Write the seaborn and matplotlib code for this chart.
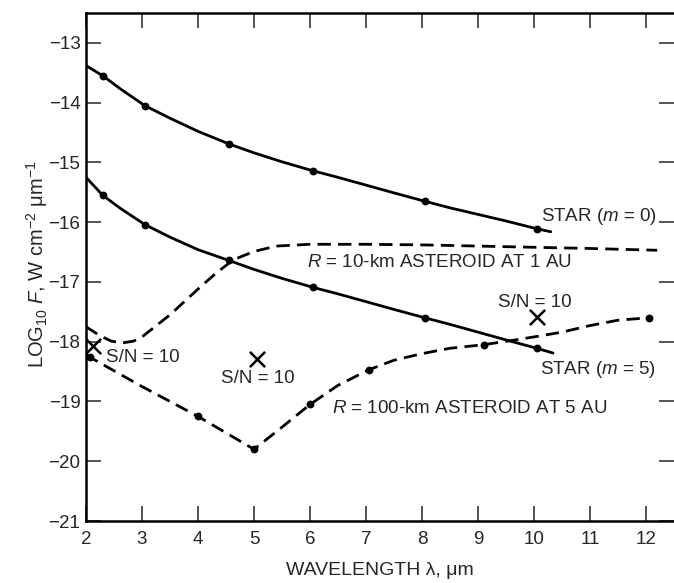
import matplotlib
matplotlib.use('Agg')
import pandas as pd
import seaborn as sns
import matplotlib.pyplot as plt

# Star m = 0 (smooth curve + measured points)
star0_x = [2.0, 2.3, 2.6, 3.05, 3.5, 4.0, 4.55, 5.0, 5.5, 6.05, 6.5, 7.0, 7.5, 8.05, 8.5, 9.0, 9.5, 10.05, 10.3]
star0_y = [-13.38, -13.55, -13.76, -14.05, -14.26, -14.48, -14.69, -14.84, -14.99, -15.14, -15.25, -15.38, -15.51, -15.65, -15.76, -15.87, -15.98, -16.11, -16.16]
star0_pts_x = [2.3, 3.05, 4.55, 6.05, 8.05, 10.05]
star0_pts_y = [-13.55, -14.05, -14.69, -15.14, -15.65, -16.11]

# Star m = 5
star5_x = [2.0, 2.3, 2.6, 3.05, 3.5, 4.0, 4.55, 5.0, 5.5, 6.05, 6.5, 7.0, 7.5, 8.05, 8.5, 9.0, 9.5, 10.05, 10.34]
star5_y = [-15.25, -15.55, -15.76, -16.04, -16.25, -16.46, -16.64, -16.79, -16.94, -17.09, -17.2, -17.33, -17.46, -17.6, -17.71, -17.84, -17.97, -18.11, -18.19]
star5_pts_x = [2.3, 3.05, 4.55, 6.05, 8.05, 10.05]
star5_pts_y = [-15.55, -16.04, -16.64, -17.09, -17.6, -18.11]

# R = 10-km asteroid at 1 AU
ast10_x = [2.0, 2.25, 2.45, 2.65, 2.85, 3.0, 3.5, 4.0, 4.3, 4.63, 5.0, 5.4, 6.0, 7.0, 8.0, 9.0, 10.0, 11.0, 12.2]
ast10_y = [-17.75, -17.9, -17.99, -18.02, -17.99, -17.92, -17.55, -17.12, -16.87, -16.63, -16.49, -16.4, -16.37, -16.37, -16.38, -16.4, -16.42, -16.44, -16.47]

# R = 100-km asteroid at 5 AU
ast100_x = [2.0, 2.07, 3.0, 4.0, 5.0, 5.5, 6.0, 6.5, 7.05, 7.5, 8.0, 8.5, 9.1, 9.6, 10.0, 10.5, 11.0, 11.5, 12.05]
ast100_y = [-18.22, -18.26, -18.75, -19.25, -19.8, -19.43, -19.05, -18.73, -18.47, -18.31, -18.2, -18.11, -18.05, -17.98, -17.92, -17.84, -17.73, -17.64, -17.6]
ast100_pts_x = [2.07, 4.0, 5.0, 6.0, 7.05, 9.1, 12.05]
ast100_pts_y = [-18.26, -19.25, -19.8, -19.05, -18.47, -18.05, -17.6]

# S/N = 10 crosses
sn_x = [2.13, 5.05, 10.05]
sn_y = [-18.08, -18.29, -17.59]

x_ticks = list(range(2, 13))
y_ticks = list(range(-21, -12))

sns.set_style('ticks')
plt.rcParams['font.family'] = ['Liberation Sans', 'DejaVu Sans']
plt.rcParams['mathtext.fontset'] = 'custom'
plt.rcParams['mathtext.rm'] = 'Liberation Sans'
plt.rcParams['mathtext.it'] = 'Liberation Sans:italic'
plt.rcParams['axes.unicode_minus'] = True

fig = plt.figure(figsize=(6.74, 5.83), dpi=100)
ax = fig.add_axes([86 / 674, 1 - 521 / 583, (674 - 86) / 674, (521 - 13) / 583])

lw = 2.0
dash = (0, (4.8, 2.6))

for xs, ys, ls in [(star0_x, star0_y, '-'), (star5_x, star5_y, '-'),
                   (ast10_x, ast10_y, dash), (ast100_x, ast100_y, dash)]:
    df = pd.DataFrame({'x': xs, 'y': ys})
    sns.lineplot(data=df, x='x', y='y', sort=False, estimator=None, color='black',
                 linewidth=lw, linestyle=ls, ax=ax)

for xs, ys in [(star0_pts_x, star0_pts_y), (star5_pts_x, star5_pts_y), (ast100_pts_x, ast100_pts_y)]:
    sns.scatterplot(x=xs, y=ys, color='black', s=32, edgecolor='black', linewidth=0, zorder=3, ax=ax)

sns.scatterplot(x=sn_x, y=sn_y, marker='x', color='black', s=120, linewidth=1.8, zorder=3, ax=ax)

fs = 13.5
ax.text(10.125, -15.91, 'STAR ($m$ = 0)', fontsize=fs, ha='left', va='center')
ax.text(5.95, -16.67, '$R$ = 10-km ASTEROID AT 1 AU', fontsize=fs, ha='left', va='center')
ax.text(10.11, -18.47, 'STAR ($m$ = 5)', fontsize=fs, ha='left', va='center')
ax.text(6.39, -19.11, '$R$ = 100-km ASTEROID AT 5 AU', fontsize=fs, ha='left', va='center')
ax.text(2.36, -18.26, 'S/N = 10', fontsize=fs, ha='left', va='center')
ax.text(5.07, -18.62, 'S/N = 10', fontsize=fs, ha='center', va='center')
ax.text(9.36, -17.35, 'S/N = 10', fontsize=fs, ha='left', va='center')

ax.set_xlim(2, 12.5)
ax.set_ylim(-21, -12.5)
ax.set_xticks(x_ticks)
ax.set_yticks(y_ticks)
ax.set_xticklabels([str(t) for t in x_ticks])
ax.set_yticklabels(['\u2212' + str(abs(t)) for t in y_ticks])
ax.tick_params(direction='in', length=11, width=1.1, labelsize=fs,
               top=True, right=True, bottom=True, left=True, pad=7)
ax.tick_params(axis='y', pad=4)

for side in ['left', 'bottom', 'top']:
    ax.spines[side].set_linewidth(1.8)
    ax.spines[side].set_color('black')
ax.spines['right'].set_visible(False)

ax.set_xlabel('WAVELENGTH λ, μm', fontsize=14, labelpad=10)
ax.set_ylabel('LOG$_{10}$ $F$, W cm$^{-2}$ μm$^{-1}$', fontsize=14.5)
ax.yaxis.set_label_coords(-0.062, 0.505)

fig.savefig('out.png', dpi=100)
